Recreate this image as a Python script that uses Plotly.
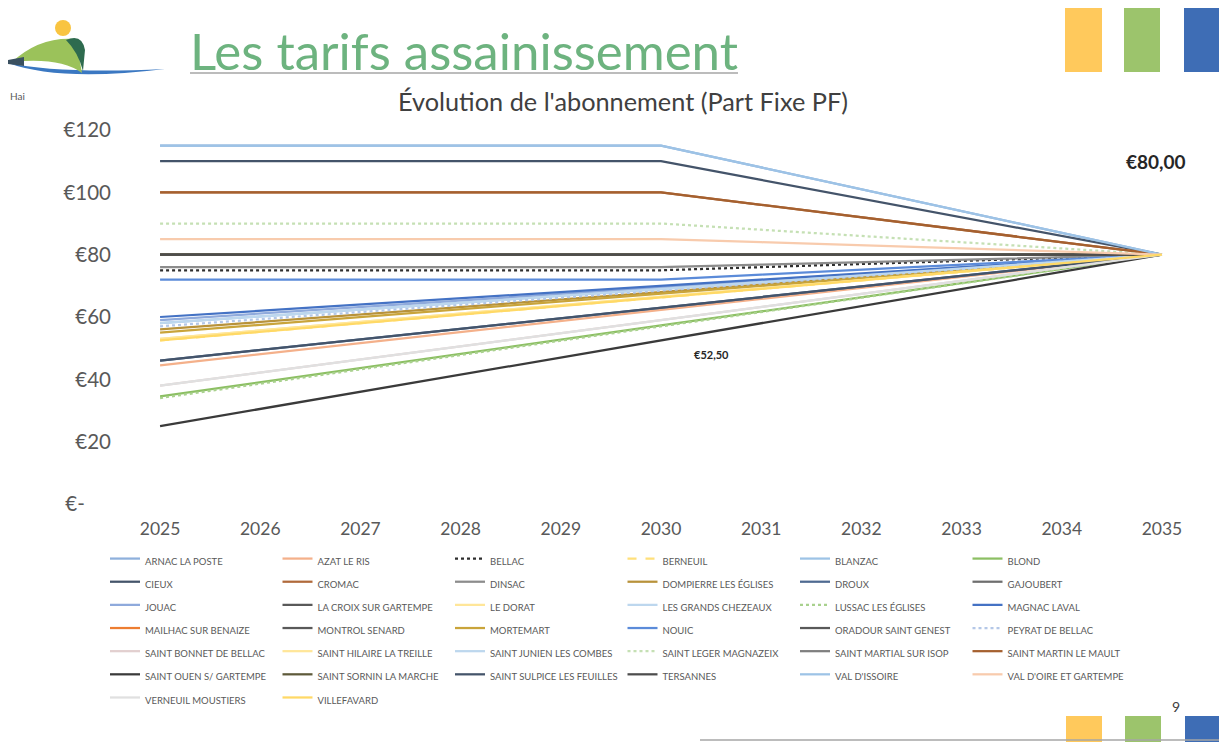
import plotly.graph_objects as go

years = [2025, 2026, 2027, 2028, 2029, 2030, 2031, 2032, 2033, 2034, 2035]

communes = [
    "ARNAC LA POSTE", "AZAT LE RIS", "BELLAC", "BERNEUIL", "BLANZAC", "BLOND",
    "CIEUX", "CROMAC", "DINSAC", "DOMPIERRE LES ÉGLISES", "DROUX", "GAJOUBERT",
    "JOUAC", "LA CROIX SUR GARTEMPE", "LE DORAT", "LES GRANDS CHEZEAUX", "LUSSAC LES ÉGLISES", "MAGNAC LAVAL",
    "MAILHAC SUR BENAIZE", "MONTROL SENARD", "MORTEMART", "NOUIC", "ORADOUR SAINT GENEST", "PEYRAT DE BELLAC",
    "SAINT BONNET DE BELLAC", "SAINT HILAIRE LA TREILLE", "SAINT JUNIEN LES COMBES", "SAINT LEGER MAGNAZEIX",
    "SAINT MARTIAL SUR ISOP", "SAINT MARTIN LE MAULT",
    "SAINT OUEN S/ GARTEMPE", "SAINT SORNIN LA MARCHE", "SAINT SULPICE LES FEUILLES", "TERSANNES",
    "VAL D'ISSOIRE", "VAL D'OIRE ET GARTEMPE",
    "VERNEUIL MOUSTIERS", "VILLEFAVARD",
]

arnac = [115, 115, 115, 115, 115, 115, 108, 101, 94, 87, 80]
azat = [44.5, 48.1, 51.6, 55.2, 58.7, 62.3, 65.8, 69.4, 72.9, 76.5, 80]
bellac = [75, 75, 75, 75, 75, 75, 76, 77, 78, 79, 80]
berneuil = [52.5, 55.3, 58, 60.8, 63.5, 66.3, 69, 71.8, 74.5, 77.3, 80]
blanzac = [58, 60.2, 62.4, 64.6, 66.8, 69, 71.2, 73.4, 75.6, 77.8, 80]
blond = [34.5, 39.1, 43.6, 48.2, 52.7, 57.3, 61.8, 66.4, 70.9, 75.5, 80]
cieux = [110, 110, 110, 110, 110, 110, 104, 98, 92, 86, 80]
cromac = [100, 100, 100, 100, 100, 100, 96, 92, 88, 84, 80]
dinsac = [76, 76, 76, 76, 76, 76, 76.8, 77.6, 78.4, 79.2, 80]
dompierre = [56, 58.4, 60.8, 63.2, 65.6, 68, 70.4, 72.8, 75.2, 77.6, 80]
droux = [46, 49.4, 52.8, 56.2, 59.6, 63, 66.4, 69.8, 73.2, 76.6, 80]
gajoubert = [80, 80, 80, 80, 80, 80, 80, 80, 80, 80, 80]
jouac = [59, 61.1, 63.2, 65.3, 67.4, 69.5, 71.6, 73.7, 75.8, 77.9, 80]
la_croix = [80, 80, 80, 80, 80, 80, 80, 80, 80, 80, 80]
le_dorat = [53, 55.7, 58.4, 61.1, 63.8, 66.5, 69.2, 71.9, 74.6, 77.3, 80]
grands_chezeaux = [80, 80, 80, 80, 80, 80, 80, 80, 80, 80, 80]
lussac = [34, 38.6, 43.2, 47.8, 52.4, 57, 61.6, 66.2, 70.8, 75.4, 80]
magnac = [60, 62, 64, 66, 68, 70, 72, 74, 76, 78, 80]
mailhac = [80, 80, 80, 80, 80, 80, 80, 80, 80, 80, 80]
montrol = [80, 80, 80, 80, 80, 80, 80, 80, 80, 80, 80]
mortemart = [55, 57.5, 60, 62.5, 65, 67.5, 70, 72.5, 75, 77.5, 80]
nouic = [72, 72, 72, 72, 72, 72, 73.6, 75.2, 76.8, 78.4, 80]
oradour = [80, 80, 80, 80, 80, 80, 80, 80, 80, 80, 80]
peyrat = [57, 59.3, 61.6, 63.9, 66.2, 68.5, 70.8, 73.1, 75.4, 77.7, 80]
st_bonnet = [38, 42.2, 46.4, 50.6, 54.8, 59, 63.2, 67.4, 71.6, 75.8, 80]
st_hilaire = [53, 55.7, 58.4, 61.1, 63.8, 66.5, 69.2, 71.9, 74.6, 77.3, 80]
st_junien = [58, 60.2, 62.4, 64.6, 66.8, 69, 71.2, 73.4, 75.6, 77.8, 80]
st_leger = [90, 90, 90, 90, 90, 90, 88, 86, 84, 82, 80]
st_martial = [80, 80, 80, 80, 80, 80, 80, 80, 80, 80, 80]
st_martin = [100, 100, 100, 100, 100, 100, 96, 92, 88, 84, 80]
st_ouen = [25, 30.5, 36, 41.5, 47, 52.5, 58, 63.5, 69, 74.5, 80]
st_sornin = [80, 80, 80, 80, 80, 80, 80, 80, 80, 80, 80]
st_sulpice = [46, 49.4, 52.8, 56.2, 59.6, 63, 66.4, 69.8, 73.2, 76.6, 80]
tersannes = [80, 80, 80, 80, 80, 80, 80, 80, 80, 80, 80]
val_issoire = [115, 115, 115, 115, 115, 115, 108, 101, 94, 87, 80]
val_oire = [85, 85, 85, 85, 85, 85, 84, 83, 82, 81, 80]
verneuil = [38, 42.2, 46.4, 50.6, 54.8, 59, 63.2, 67.4, 71.6, 75.8, 80]
villefavard = [52.5, 55.3, 58, 60.8, 63.5, 66.3, 69, 71.8, 74.5, 77.3, 80]

series = [
    arnac, azat, bellac, berneuil, blanzac, blond,
    cieux, cromac, dinsac, dompierre, droux, gajoubert,
    jouac, la_croix, le_dorat, grands_chezeaux, lussac, magnac,
    mailhac, montrol, mortemart, nouic, oradour, peyrat,
    st_bonnet, st_hilaire, st_junien, st_leger, st_martial, st_martin,
    st_ouen, st_sornin, st_sulpice, tersannes, val_issoire, val_oire,
    verneuil, villefavard,
]

colors = [
    "#8EB0DC", "#F4B08A", "#2E2E2E", "#FFE07A", "#9DC3E6", "#8CBF63",
    "#44546A", "#B06A3B", "#8C8C8C", "#B8923A", "#4E6A91", "#6E6E6E",
    "#8FAADC", "#595959", "#FFE699", "#BDD7EE", "#A9D18E", "#4472C4",
    "#ED7D31", "#595959", "#C9A43A", "#5B8BD9", "#595959", "#B4C7E7",
    "#E2CFCF", "#FFE699", "#BDD7EE", "#C5E0B4", "#7F7F7F", "#A5602F",
    "#3A3A3A", "#5E5A3A", "#44546A", "#4D4D4D", "#9DC3E6", "#F8CBAD",
    "#E0E0E0", "#FFD966",
]
dashes = [
    "solid", "solid", "dot", "dash", "solid", "solid",
    "solid", "solid", "solid", "solid", "solid", "solid",
    "solid", "solid", "solid", "solid", "dot", "solid",
    "solid", "solid", "solid", "solid", "solid", "dot",
    "solid", "solid", "solid", "dot", "solid", "solid",
    "solid", "solid", "solid", "solid", "solid", "solid",
    "solid", "solid",
]

ytick_vals = [0, 20, 40, 60, 80, 100, 120]
ytick_text = ["€-" + "\u00a0" * 5, "€20", "€40", "€60", "€80", "€100", "€120"]

# page has an 8px body margin; geometry below is in reference-page pixels
OFF = 8
W, H = 1227 - OFF, 742 - OFF
PLOT_L, PLOT_R, PLOT_T, PLOT_B = 120, 1202, 130, 504  # page pixels
L, T = PLOT_L - OFF, PLOT_T - OFF
R, B = W - (PLOT_R - OFF), H - (PLOT_B - OFF)
PW = PLOT_R - PLOT_L
PH = PLOT_B - PLOT_T


def fx(px):
    return (px - PLOT_L) / PW


def fy(py):
    return (PLOT_B - py) / PH


fig = go.Figure()
for name, vals, col, dsh in zip(communes, series, colors, dashes):
    fig.add_trace(go.Scatter(
        x=years, y=vals, name=f'<span style="font-size:9.5px">{name}</span>', mode="lines",
        line=dict(color=col, width=2.25, dash=dsh),
    ))

shapes = []
for x0, x1, c in [(1065, 1102, "#FFC95C"), (1124, 1160, "#9CC46C"), (1184, 1220, "#3E6DB5")]:
    shapes.append(dict(type="rect", xref="paper", yref="paper", x0=fx(x0), x1=fx(x1),
                       y0=fy(72), y1=fy(7), fillcolor=c, line=dict(width=0), layer="above"))
for x0, x1, c in [(1066, 1102, "#FFC95C"), (1125, 1161, "#9CC46C"), (1185, 1221, "#3E6DB5")]:
    shapes.append(dict(type="rect", xref="paper", yref="paper", x0=fx(x0), x1=fx(x1),
                       y0=fy(742), y1=fy(716), fillcolor=c, line=dict(width=0), layer="above"))
shapes.append(dict(type="line", xref="paper", yref="paper", x0=fx(190), x1=fx(738),
                   y0=fy(73), y1=fy(73), line=dict(color="#A6A6A6", width=1.5)))
shapes.append(dict(type="line", xref="paper", yref="paper", x0=fx(700), x1=fx(1227),
                   y0=fy(740), y1=fy(740), line=dict(color="#A6A6A6", width=1.5)))


def path(points, closed=True):
    parts = []
    for i, p in enumerate(points):
        if isinstance(p[0], str):
            parts.append(f"Q {fx(p[1][0]):.5f},{fy(p[1][1]):.5f} {fx(p[2][0]):.5f},{fy(p[2][1]):.5f}")
        else:
            parts.append(("M " if i == 0 else "L ") + f"{fx(p[0]):.5f},{fy(p[1]):.5f}")
    return " ".join(parts) + (" Z" if closed else "")


# logo (approximate)
shapes.append(dict(type="path", xref="paper", yref="paper",
                   path=path([(8, 63), ("Q", (60, 82), (165, 69)), ("Q", (60, 74), (8, 63))]),
                   fillcolor="#3B78C2", line=dict(width=0)))
shapes.append(dict(type="path", xref="paper", yref="paper",
                   path=path([(12, 62), ("Q", (40, 36), (76, 39)), (82, 73), ("Q", (60, 57), (12, 62))]),
                   fillcolor="#9BC25A", line=dict(width=0)))
shapes.append(dict(type="path", xref="paper", yref="paper",
                   path=path([(66, 40), ("Q", (82, 33), (85, 50)), (83, 71), ("Q", (78, 52), (66, 40))]),
                   fillcolor="#2E6B4F", line=dict(width=0)))
shapes.append(dict(type="path", xref="paper", yref="paper",
                   path=path([(8, 60), (24, 57), (24, 66), (8, 64)]),
                   fillcolor="#3A5060", line=dict(width=0)))
shapes.append(dict(type="circle", xref="paper", yref="paper", x0=fx(55), x1=fx(71),
                   y0=fy(36), y1=fy(20), fillcolor="#F9C440", line=dict(width=0)))

annotations = [
    dict(text="Les tarifs assainissement", xref="paper", yref="paper", x=fx(188), y=fy(50),
         xanchor="left", yanchor="middle", showarrow=False,
         font=dict(family="Lato", size=51, color="#6DB37F")),
    dict(text="Hai", xref="paper", yref="paper", x=fx(8), y=fy(96), xanchor="left", yanchor="middle",
         showarrow=False, font=dict(family="Lato", size=10, color="#595959")),
    dict(text="9", xref="paper", yref="paper", x=fx(1176), y=fy(706), xanchor="center", yanchor="middle",
         showarrow=False, font=dict(family="Lato", size=14, color="#404040")),
    dict(text="<b>€80,00</b>", x=2035, y=80, xref="x", yref="y", showarrow=False,
         xshift=-6, yshift=93, font=dict(family="Lato", size=19, color="#262626")),
    dict(text="<b>€52,50</b>", x=2030, y=52.5, xref="x", yref="y", showarrow=False,
         xshift=50, yshift=-14, font=dict(family="Lato", size=11, color="#262626")),
]

fig.update_layout(
    width=W, height=H,
    margin=dict(l=L, r=R, t=T, b=B, pad=0, autoexpand=False),
    paper_bgcolor="white", plot_bgcolor="white",
    title=dict(text="Évolution de l'abonnement (Part Fixe PF)", x=(623 - OFF) / W, xanchor="center",
               y=1 - (102 - OFF) / H, yanchor="middle", xref="container", yref="container",
               font=dict(family="Lato", size=25.3, color="#404040")),
    xaxis=dict(range=[2024.6, 2035.4], tickvals=years, ticktext=[str(y) for y in years],
               showgrid=False, zeroline=False, showline=False, ticks="",
               ticklabelstandoff=12, tickfont=dict(family="Lato", size=17.5, color="#595959")),
    yaxis=dict(range=[0, 120], tickvals=ytick_vals, ticktext=ytick_text,
               showgrid=False, zeroline=False, showline=False, ticks="",
               ticklabelstandoff=8, tickfont=dict(family="Lato", size=20.5, color="#595959")),
    showlegend=True,
    legend=dict(orientation="h", xref="container", yref="container", x=97 / W, y=1 - 534 / H,
                xanchor="left", yanchor="top", entrywidth=127.5, entrywidthmode="pixels",
                font=dict(family="Lato", size=15.5, color="#595959"), itemwidth=30,
                bgcolor="rgba(0,0,0,0)"),
    shapes=shapes,
    annotations=annotations,
    hovermode=False,
)

fig.write_html("out.html")
